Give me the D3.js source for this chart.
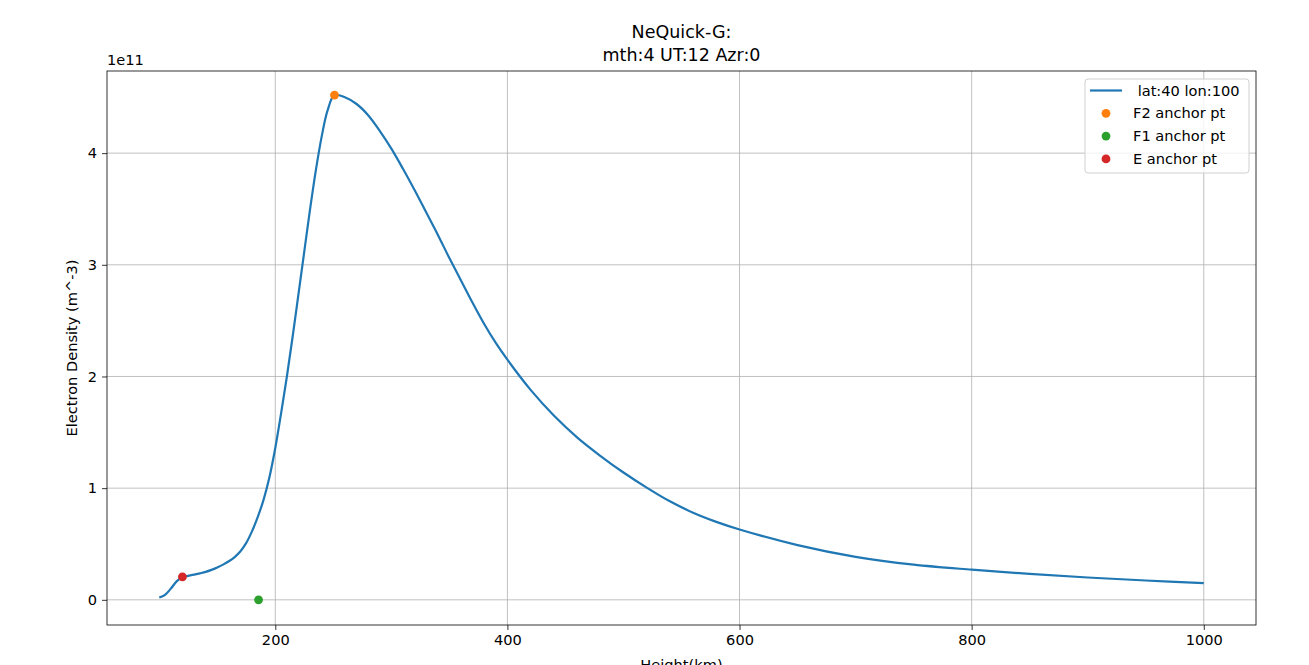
<!DOCTYPE html>
<meta charset="utf-8">
<html><head>
<style>
body { margin: 0; background: #fff; }
text { font-family: "DejaVu Sans", sans-serif; fill: #000; }
.tick text { font-size: 14.6px; }
.grid line { stroke: #b0b0b0; stroke-width: 0.8px; }
</style>
</head>
<body>
<svg width="1309" height="665"></svg>
<script src="https://d3js.org/d3.v7.min.js"></script>
<script>

// profile, density in units of 1e11 m^-3
var heights = [100, 105, 110, 115, 120, 125, 130, 135, 140, 145, 150, 155, 160, 165, 170, 175, 180,
  185, 190, 195, 200, 205, 210, 215, 220, 225, 230, 235, 240, 245, 251, 260, 270, 280, 290, 300,
  310, 320, 330, 340, 350, 360, 370, 380, 390, 400, 420, 440, 460, 480, 500, 520, 540, 560, 580,
  600, 650, 700, 750, 800, 850, 900, 950, 1000];
var density = [0.02, 0.045, 0.10, 0.165, 0.205, 0.215, 0.225, 0.237, 0.25, 0.268, 0.29, 0.315, 0.345,
  0.383, 0.435, 0.51, 0.615, 0.745, 0.90, 1.10, 1.36, 1.67, 2.00, 2.36, 2.74, 3.12, 3.50, 3.85, 4.15,
  4.38, 4.52, 4.50, 4.44, 4.34, 4.20, 4.04, 3.86, 3.67, 3.47, 3.27, 3.06, 2.86, 2.66, 2.47, 2.30,
  2.15, 1.88, 1.65, 1.455, 1.29, 1.14, 1.005, 0.882, 0.78, 0.698, 0.63, 0.49, 0.385, 0.315, 0.27,
  0.232, 0.20, 0.173, 0.149];

var anchorNames = ["F2 anchor pt", "F1 anchor pt", "E anchor pt"];
var anchorHeights = [251, 185.6, 120];
var anchorDensity = [4.52, 0, 0.206];
var anchorColors = ["#ff7f0e", "#2ca02c", "#d62728"];

var lineName = " lat:40 lon:100";
var xTicks = [200, 400, 600, 800, 1000];
var yTicks = [0, 1, 2, 3, 4];

var svg = d3.select("svg"),
    mLeft = 107, mRight = 1256, mTop = 71, mBottom = 625;

var x = d3.scaleLinear().domain([55, 1045]).range([mLeft, mRight]);
var y = d3.scaleLinear().domain([-0.2255, 4.7355]).range([mBottom, mTop]);

// grid
var grid = svg.append("g").attr("class", "grid");
grid.selectAll(".gx").data(xTicks).enter().append("line")
    .attr("x1", d => x(d)).attr("x2", d => x(d))
    .attr("y1", mTop).attr("y2", mBottom);
grid.selectAll(".gy").data(yTicks).enter().append("line")
    .attr("x1", mLeft).attr("x2", mRight)
    .attr("y1", d => y(d)).attr("y2", d => y(d));

var profile = heights.map((h, i) => [h, density[i]]);

svg.append("path")
    .datum(profile)
    .attr("fill", "none")
    .attr("stroke", "#1f77b4")
    .attr("stroke-width", 2.2)
    .attr("d", d3.line().x(d => x(d[0])).y(d => y(d[1])).curve(d3.curveCatmullRom.alpha(0.5)));

svg.selectAll(".anchor")
    .data(anchorNames)
    .enter().append("circle")
      .attr("cx", (d, i) => x(anchorHeights[i]))
      .attr("cy", (d, i) => y(anchorDensity[i]))
      .attr("r", 4.4)
      .attr("fill", (d, i) => anchorColors[i]);

// axes
var xAxis = svg.append("g")
    .attr("transform", "translate(0," + mBottom + ")")
    .call(d3.axisBottom(x).tickValues(xTicks).tickFormat(d3.format("d")).tickSize(5).tickPadding(5));
var yAxis = svg.append("g")
    .attr("transform", "translate(" + mLeft + ",0)")
    .call(d3.axisLeft(y).tickValues(yTicks).tickFormat(d3.format("d")).tickSize(5).tickPadding(5));
[xAxis, yAxis].forEach(function(a) {
  a.select(".domain").remove();
  a.selectAll(".tick line").attr("stroke", "#000").attr("stroke-width", 0.8);
  a.selectAll(".tick text").attr("fill", "#000").style("font-family", "DejaVu Sans");
});

svg.append("rect")
    .attr("x", mLeft).attr("y", mTop)
    .attr("width", mRight - mLeft).attr("height", mBottom - mTop)
    .attr("fill", "none").attr("stroke", "#000").attr("stroke-width", 0.8);

// labels
svg.append("text").attr("x", mLeft).attr("y", 65)
    .style("font-size", "14.6px").text("1e11");

svg.append("text").attr("x", (mLeft + mRight) / 2).attr("y", 38)
    .attr("text-anchor", "middle").style("font-size", "17.5px").text("NeQuick-G:");
svg.append("text").attr("x", (mLeft + mRight) / 2).attr("y", 61)
    .attr("text-anchor", "middle").style("font-size", "17.5px").text("mth:4 UT:12 Azr:0");

svg.append("text").attr("x", (mLeft + mRight) / 2).attr("y", 670)
    .attr("text-anchor", "middle").style("font-size", "14.6px").text("Height(km)");

svg.append("text")
    .attr("transform", "translate(77," + (mTop + mBottom) / 2 + ") rotate(-90)")
    .attr("text-anchor", "middle").style("font-size", "14.6px")
    .text("Electron Density (m^-3)");

// legend
var legend = svg.append("g").attr("transform", "translate(1085,79)");
legend.append("rect")
    .attr("width", 164).attr("height", 94).attr("rx", 3)
    .attr("fill", "#fff").attr("fill-opacity", 0.8)
    .attr("stroke", "#d0d0d0").attr("stroke-width", 1);

var rows = [lineName].concat(anchorNames);
var row = legend.selectAll(".row").data(rows).enter().append("g")
    .attr("transform", (d, i) => "translate(0," + (11.5 + i * 22.8) + ")");
row.filter((d, i) => i === 0).append("line")
    .attr("x1", 5).attr("x2", 37).attr("stroke", "#1f77b4").attr("stroke-width", 2.2);
row.filter((d, i) => i > 0).append("circle")
    .attr("cx", 21).attr("r", 4.4).attr("fill", (d, i) => anchorColors[i]);
row.append("text")
    .attr("x", 48).attr("dy", "0.35em").style("font-size", "14.6px")
    .attr("xml:space", "preserve").style("white-space", "pre")
    .text(d => d);

</script>
</body>
</html>
